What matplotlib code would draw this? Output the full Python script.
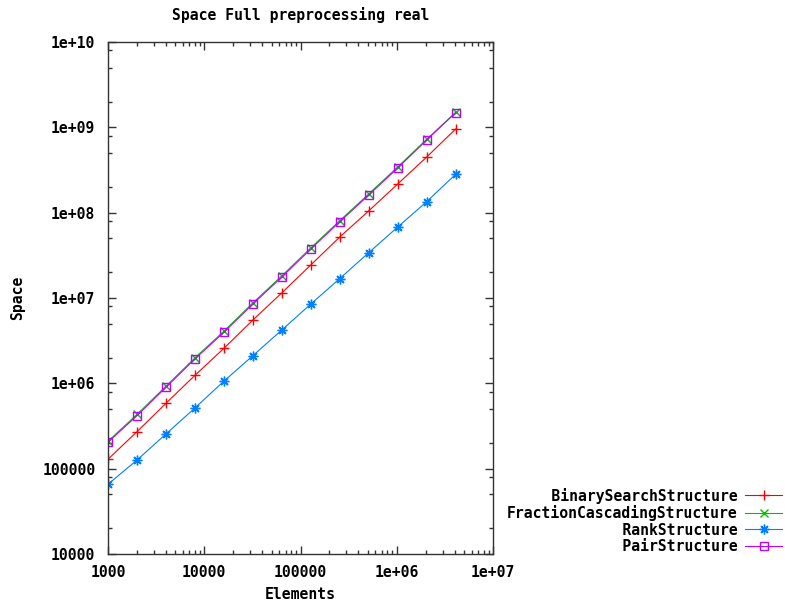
import matplotlib
matplotlib.use('Agg')
import matplotlib.pyplot as plt
from matplotlib.ticker import LogLocator, FixedFormatter, NullFormatter

# data
elements = [1000, 2000, 4000, 8000, 16000, 32000, 64000, 128000,
            256000, 512000, 1024000, 2048000, 4096000]
binary_search = [1.29e5, 2.71e5, 5.83e5, 1.24e6, 2.57e6, 5.52e6, 1.15e7,
                 2.44e7, 5.19e7, 1.05e8, 2.17e8, 4.49e8, 9.57e8]
fraction_cascading = [2.10e5, 4.32e5, 9.25e5, 1.99e6, 4.08e6, 8.77e6, 1.82e7,
                      3.87e7, 8.07e7, 1.66e8, 3.44e8, 7.25e8, 1.50e9]
rank = [6.56e4, 1.26e5, 2.55e5, 5.14e5, 1.06e6, 2.11e6, 4.22e6,
        8.5e6, 1.69e7, 3.40e7, 6.79e7, 1.346e8, 2.82e8]
pair = [2.04e5, 4.18e5, 8.98e5, 1.93e6, 3.96e6, 8.51e6, 1.76e7,
        3.75e7, 7.83e7, 1.61e8, 3.34e8, 7.11e8, 1.486e9]

names = ['BinarySearchStructure', 'FractionCascadingStructure',
         'RankStructure', 'PairStructure']
xticks = [1e3, 1e4, 1e5, 1e6, 1e7]
xlabels = ['1000', '10000', '100000', '1e+06', '1e+07']
yticks = [1e4, 1e5, 1e6, 1e7, 1e8, 1e9, 1e10]
ylabels = ['10000', '100000', '1e+06', '1e+07', '1e+08', '1e+09', '1e+10']

FONT = dict(family='DejaVu Sans Mono', weight='bold', size=10.6)
plt.rcParams['font.family'] = 'DejaVu Sans Mono'
plt.rcParams['font.weight'] = 'bold'
plt.rcParams['font.size'] = 10.6

fig = plt.figure(figsize=(7.85, 6.04), dpi=100)
ax = fig.add_axes([108/785, 1-554/604, (493-108)/785, (554-42)/604])

width = max(len(n) for n in names)
series = [binary_search, fraction_cascading, rank, pair]
colors = ['#ff0000', '#00c000', '#0080ff', '#c000ff']
markers = ['+', 'x', (8, 2, 0), 's']
sizes = [7, 5.5, 7, 5.5]

for vals, name, c, m, s in zip(series, names, colors, markers, sizes):
    ax.plot(elements, vals, color=c, lw=0.8, marker=m, markersize=s,
            markerfacecolor='none', markeredgecolor=c, markeredgewidth=1.0,
            label=name.rjust(width))

ax.set_xscale('log')
ax.set_yscale('log')
ax.set_xlim(1e3, 1e7)
ax.set_ylim(1e4, 1e10)

ax.set_xticks(xticks)
ax.xaxis.set_major_formatter(FixedFormatter(xlabels))
ax.set_yticks(yticks)
ax.yaxis.set_major_formatter(FixedFormatter(ylabels))
ax.xaxis.set_minor_locator(LogLocator(base=10, subs=range(2, 10), numticks=20))
ax.yaxis.set_minor_locator(LogLocator(base=10, subs=[2, 5, 8], numticks=20))
ax.xaxis.set_minor_formatter(NullFormatter())
ax.yaxis.set_minor_formatter(NullFormatter())

ax.tick_params(which='both', direction='in', top=True, right=True,
               color='#333333', width=1)
ax.tick_params(which='major', length=6)
ax.tick_params(which='minor', length=3)
ax.tick_params(axis='x', pad=8)
ax.tick_params(axis='y', pad=9)
for sp in ax.spines.values():
    sp.set_color('#333333')
    sp.set_linewidth(1)

ax.set_title('Space Full preprocessing real', pad=16, **FONT)
ax.set_xlabel('Elements', labelpad=5, **FONT)
ax.set_ylabel('Space', labelpad=12, **FONT)

fig.legend(loc='lower right', bbox_to_anchor=(1.0, 1-557/604), frameon=False,
           markerfirst=False, handlelength=2.5, handletextpad=0.5,
           labelspacing=0.1, borderaxespad=0, borderpad=0.2)

fig.savefig('out.png', dpi=100)
